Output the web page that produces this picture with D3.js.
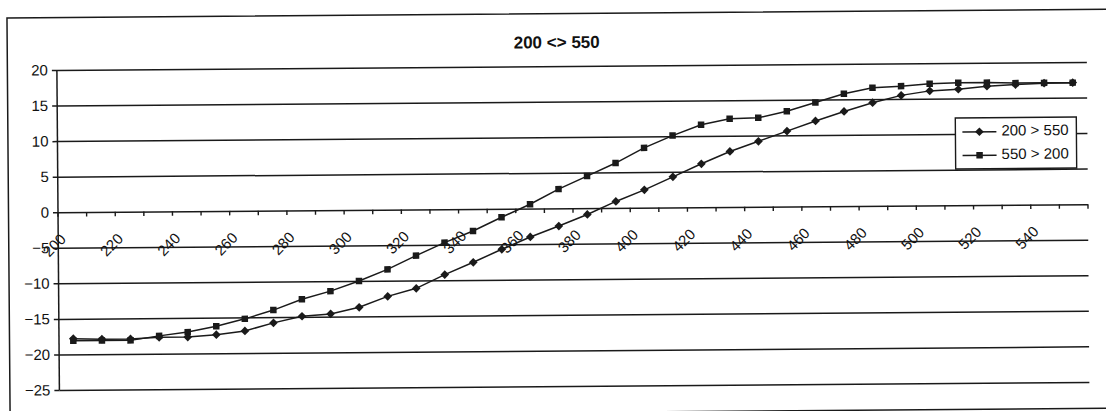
<!DOCTYPE html>
<html>
<head>
<meta charset="utf-8">
<script src="https://cdn.jsdelivr.net/npm/d3@7"></script>
<style>
  html, body { margin: 0; padding: 0; background: #fff; }
  svg { display: block; }
  text { font-family: "Liberation Sans", Arial, sans-serif; fill: #111; }
</style>
</head>
<body>
<svg id="chart" width="1106" height="411"></svg>
<script>
// Wavelength steps (category axis)
const categories = [200, 210, 220, 230, 240, 250, 260, 270, 280, 290,
                    300, 310, 320, 330, 340, 350, 360, 370, 380, 390,
                    400, 410, 420, 430, 440, 450, 460, 470, 480, 490,
                    500, 510, 520, 530, 540, 550];

// Sweep upward: 200 > 550
const upSweep = [-17.8, -17.9, -17.9, -17.7, -17.7, -17.4, -16.9, -15.8, -14.9, -14.6,
                 -13.7, -12.2, -11.1, -9.2, -7.5, -5.7, -4.0, -2.5, -0.9, 0.9,
                 2.5, 4.3, 6.1, 7.8, 9.2, 10.6, 12.0, 13.3, 14.5, 15.5,
                 16.1, 16.3, 16.7, 16.9, 17.05, 17.1];

// Sweep downward: 550 > 200
const downSweep = [-18.1, -18.1, -18.1, -17.5, -17.0, -16.2, -15.2, -14.0, -12.5, -11.4,
                   -10.0, -8.4, -6.5, -4.7, -3.1, -1.2, 0.6, 2.7, 4.5, 6.3,
                   8.4, 10.1, 11.6, 12.4, 12.5, 13.4, 14.6, 15.8, 16.6, 16.8,
                   17.1, 17.2, 17.2, 17.1, 17.1, 17.1];

const yTicks = [-25, -20, -15, -10, -5, 0, 5, 10, 15, 20];
const xTickLabels = ["200", "220", "240", "260", "280", "300", "320", "340", "360",
                     "380", "400", "420", "440", "460", "480", "500", "520", "540"];

const seriesNames = ["200 > 550", "550 > 200"];
const titleText = "200 <> 550";

const svg = d3.select("#chart");
const ink = "#1a1a1a";

// plot area
const plotL = 58, plotR = 1088, plotT = 70, plotB = 390;

const x = d3.scaleBand().domain(categories).range([plotL, plotR]).padding(0);
const y = d3.scaleLinear().domain([-25, 20]).range([plotB, plotT]);
const cx = d => x(d) + x.bandwidth() / 2;

svg.append("rect").attr("width", 1106).attr("height", 411).attr("fill", "#fff");

// whole sheet sits at a slight tilt
const root = svg.append("g").attr("transform", `rotate(-0.45, ${plotL}, ${y(0)})`);

// outer chart frame
root.append("rect")
  .attr("x", 8.5).attr("y", 17.5).attr("width", 1102).attr("height", 399)
  .attr("fill", "none").attr("stroke", ink).attr("stroke-width", 1.5);

// title
root.append("text")
  .attr("x", 558).attr("y", 52)
  .attr("text-anchor", "middle")
  .attr("font-size", 17).attr("font-weight", "bold")
  .text(titleText);

// horizontal gridlines + value axis
const yAxis = d3.axisLeft(y).tickValues(yTicks).tickSize(5).tickPadding(4)
  .tickFormat(d3.format("d"));
const yg = root.append("g").attr("transform", `translate(${plotL},0)`).call(yAxis);
yg.select(".domain").attr("stroke", ink).attr("stroke-width", 1.5)
  .attr("d", `M0,${plotT}V${plotB}`);
yg.selectAll(".tick line").attr("stroke", ink).attr("stroke-width", 1.5);
yg.selectAll(".tick text").attr("font-size", 15).attr("fill", "#111")
  .style("font-family", "'Liberation Sans', Arial, sans-serif");

const grid = d3.axisLeft(y).tickValues(yTicks).tickSize(-(plotR - plotL)).tickFormat("");
const gg = root.append("g").attr("transform", `translate(${plotL},0)`).call(grid);
gg.select(".domain").remove();
gg.selectAll(".tick line").attr("stroke", ink).attr("stroke-width", 1.5);

// category axis crossing at zero, ticks between categories
const y0 = y(0);
const edges = categories.map(c => x(c)).concat([x.range()[1]]);
root.append("g").selectAll("line").data(edges).join("line")
  .attr("x1", d => d).attr("x2", d => d)
  .attr("y1", y0).attr("y2", y0 + 4.5)
  .attr("stroke", ink).attr("stroke-width", 1.4);

root.append("g").selectAll("text").data(xTickLabels).join("text")
  .attr("transform", d => `translate(${cx(+d) - 8.5},${y0 + 25}) rotate(-45)`)
  .attr("text-anchor", "end")
  .attr("dominant-baseline", "middle")
  .attr("font-size", 15)
  .text(d => d);

// series
const line = d3.line().x((d, i) => cx(categories[i])).y(d => y(d));

// a square turned on its corner gives an even diamond
const diamond = { path: d3.symbol().type(d3.symbolSquare).size(38)(), turn: 45 };
const square = { path: d3.symbol().type(d3.symbolSquare).size(42)(), turn: 0 };

function drawSeries(values, sym) {
  root.append("path").datum(values)
    .attr("d", line).attr("fill", "none")
    .attr("stroke", ink).attr("stroke-width", 1.5);
  root.append("g").selectAll("path").data(values).join("path")
    .attr("transform", (d, i) => `translate(${cx(categories[i])},${y(d)}) rotate(${sym.turn})`)
    .attr("d", sym.path)
    .attr("fill", ink);
}
drawSeries(downSweep, square);
drawSeries(upSweep, diamond);

// legend
const lg = root.append("g").attr("transform", "translate(956,125)");
lg.append("rect").attr("x", 0).attr("y", 0).attr("width", 121).attr("height", 51)
  .attr("fill", "#fff").attr("stroke", ink).attr("stroke-width", 1.4);
const legendItems = [
  { name: seriesNames[0], sym: diamond, yy: 14 },
  { name: seriesNames[1], sym: square, yy: 37.5 }
];
legendItems.forEach(it => {
  lg.append("line").attr("x1", 7).attr("x2", 41).attr("y1", it.yy).attr("y2", it.yy)
    .attr("stroke", ink).attr("stroke-width", 1.5);
  lg.append("path").attr("transform", `translate(24,${it.yy}) rotate(${it.sym.turn})`)
    .attr("d", it.sym.path).attr("fill", ink);
  lg.append("text").attr("x", 46).attr("y", it.yy).attr("dominant-baseline", "middle")
    .attr("font-size", 15).text(it.name);
});
</script>
</body>
</html>
